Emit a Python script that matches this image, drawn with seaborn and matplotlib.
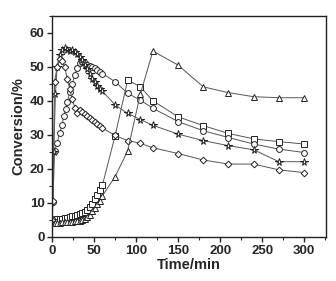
import matplotlib
matplotlib.use("Agg")
import matplotlib.pyplot as plt
import seaborn as sns
from matplotlib.ticker import MultipleLocator

sns.set_style("ticks")
plt.rcParams['font.family'] = ['Liberation Sans', 'DejaVu Sans']

# square series
t_square = [0, 3, 6, 9, 12, 15, 18, 21, 24, 27, 30, 33, 36, 39, 42, 45, 48, 51, 54, 57, 60,
            75, 90, 105, 120, 150, 180, 210, 240, 270, 300]
v_square = [4.8, 5.0, 5.2, 5.3, 5.4, 5.5, 5.6, 5.8, 6.0, 6.2, 6.4, 6.7, 7.0, 7.4, 8.0, 8.8, 9.6,
            11.0, 12.3, 13.8, 15.3, 29.7, 46.1, 44.1, 40.0, 35.3, 32.7, 30.4, 28.8, 28.0, 27.3]

# circle series
t_circle = [0, 1, 3, 6, 9, 12, 14, 16, 18, 21, 24, 27, 30, 33, 36, 39, 42, 45, 48, 51, 54, 57, 60,
            75, 90, 105, 120, 150, 180, 210, 240, 270, 300]
v_circle = [5.3, 10.2, 25.1, 27.7, 30.4, 33.0, 35.5, 37.5, 39.5, 42.5, 45.0, 47.5, 49.5, 51.0, 51.3,
            51.0, 50.5, 50.2, 50.0, 49.6, 49.0, 48.5, 48.0, 45.6, 42.2, 40.2, 37.8, 33.9, 31.2,
            29.2, 27.3, 25.8, 24.8]

# star series
t_star = [0, 2, 4, 6, 9, 12, 15, 18, 21, 24, 27, 30, 33, 36, 39, 42, 45, 48, 51, 54, 57, 60,
          75, 90, 105, 120, 150, 180, 210, 240, 270, 300]
v_star = [5.0, 25.0, 42.0, 50.0, 53.5, 55.0, 55.5, 55.0, 54.6, 55.0, 54.3, 53.8, 53.0, 52.0, 50.5,
          49.2, 48.0, 46.5, 45.5, 44.3, 43.5, 42.8, 38.8, 36.3, 34.5, 32.8, 30.2, 28.3, 26.8,
          25.6, 22.1, 22.1]

# diamond series
t_diamond = [0, 1, 3, 6, 9, 12, 15, 18, 21, 24, 27, 30, 33, 36, 39, 42, 45, 48, 51, 54, 57, 60,
             75, 90, 105, 120, 150, 180, 210, 240, 270, 300]
v_diamond = [5.0, 10.4, 45.6, 50.0, 52.2, 51.8, 50.0, 46.5, 43.5, 40.5, 38.0, 36.3, 37.2, 36.8,
             36.0, 35.5, 35.0, 34.5, 33.8, 33.2, 32.7, 32.0, 29.8, 28.3, 27.5, 26.2, 24.5, 22.6,
             21.4, 21.4, 19.7, 18.9]

# triangle series
t_triangle = [0, 3, 6, 9, 12, 15, 18, 21, 24, 27, 30, 33, 36, 39, 42, 45, 48, 51, 54, 57, 60,
              75, 90, 105, 120, 150, 180, 210, 240, 270, 300]
v_triangle = [4.0, 4.1, 4.2, 4.2, 4.3, 4.3, 4.4, 4.4, 4.5, 4.6, 4.7, 4.8, 5.0, 5.3, 5.8, 6.5, 7.5,
              8.6, 9.6, 10.4, 12.1, 17.7, 25.3, 41.9, 54.6, 50.5, 44.1, 42.4, 41.2, 40.9, 40.9]

series = [
    (t_square, v_square, 's'),
    (t_circle, v_circle, 'o'),
    (t_star, v_star, '*'),
    (t_diamond, v_diamond, 'D'),
    (t_triangle, v_triangle, '^'),
]

fig = plt.figure(figsize=(3.36, 2.81), dpi=100)
ax = fig.add_axes([0.155, 0.157, 0.815, 0.787])

for t, v, m in series:
    ms = 4.2 if m != '*' else 5.5
    if m == 'D':
        ms = 3.4
    sns.lineplot(x=t, y=v, ax=ax, color='#555555', linewidth=0.7, marker=m,
                 markersize=ms, markerfacecolor='white', markeredgecolor='#222222',
                 markeredgewidth=0.7, estimator=None, sort=False)

ax.set_xlim(0, 326)
ax.set_ylim(0, 65)
ax.xaxis.set_major_locator(MultipleLocator(50))
ax.xaxis.set_minor_locator(MultipleLocator(25))
ax.yaxis.set_major_locator(MultipleLocator(10))
ax.yaxis.set_minor_locator(MultipleLocator(5))
ax.tick_params(which='major', length=3.5, width=1, direction='out', labelsize=9.5, pad=2)
ax.tick_params(which='minor', length=2, width=0.8, direction='out')
for lab in ax.get_xticklabels() + ax.get_yticklabels():
    lab.set_fontweight('bold')
for s in ax.spines.values():
    s.set_linewidth(1)
    s.set_color('#222222')

ax.set_xlabel('Time/min', fontsize=10.5, fontweight='bold', labelpad=1)
ax.set_ylabel('Conversion/%', fontsize=10.5, fontweight='bold', labelpad=3)

fig.savefig('out.png', dpi=100)
